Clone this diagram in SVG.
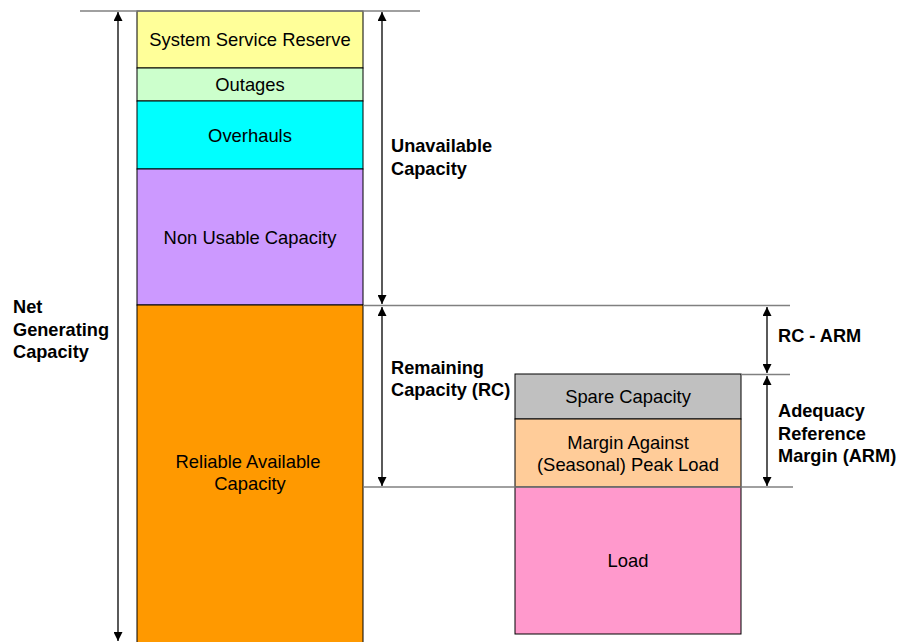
<svg xmlns="http://www.w3.org/2000/svg" width="897" height="642" viewBox="0 0 897 642">
<style>
.box{stroke:#000;stroke-width:1}
.t{font-family:"Liberation Sans",Arial,sans-serif;font-size:18.4px;fill:#000;text-anchor:middle}
.b{font-family:"Liberation Sans",Arial,sans-serif;font-size:18.2px;font-weight:bold;fill:#000}
.ref{stroke:#808080;stroke-width:1.3;fill:none}
.arr{stroke:#000;stroke-width:1.3;fill:none;marker-start:url(#ah);marker-end:url(#ah)}
</style>
<defs>
<marker id="ah" viewBox="0 0 10 10" refX="10" refY="5" markerWidth="9" markerHeight="9" markerUnits="userSpaceOnUse" orient="auto-start-reverse">
<path d="M0,0 L10,5 L0,10 Z" fill="#000"/>
</marker>
</defs>
<rect width="897" height="642" fill="#fff"/>
<g id="ssr"><rect class="box" x="137" y="11" width="226" height="57" fill="#FFFF99"/><text class="t" x="250" y="46">System Service Reserve</text></g>
<g id="outages"><rect class="box" x="137" y="68" width="226" height="33" fill="#CCFFCC"/><text class="t" x="250" y="91">Outages</text></g>
<g id="overhauls"><rect class="box" x="137" y="101" width="226" height="68" fill="#00FFFF"/><text class="t" x="250" y="142">Overhauls</text></g>
<g id="nonusable"><rect class="box" x="137" y="169" width="226" height="136" fill="#CC99FF"/><text class="t" x="250" y="244">Non Usable Capacity</text></g>
<g id="reliable"><rect class="box" x="137" y="305" width="226" height="345" fill="#FF9900"/><text class="t" x="248" y="468">Reliable Available</text><text class="t" x="250" y="490">Capacity</text></g>
<g id="spare"><rect class="box" x="515" y="374" width="226" height="45" fill="#C0C0C0"/><text class="t" x="628" y="403">Spare Capacity</text></g>
<g id="margin"><rect class="box" x="515" y="419" width="226" height="68" fill="#FFCC99"/><text class="t" x="628" y="449">Margin Against</text><text class="t" x="628" y="471">(Seasonal) Peak Load</text></g>
<g id="load"><rect class="box" x="515" y="487" width="226" height="147" fill="#FF99CC"/><text class="t" x="628" y="567">Load</text></g>
<g id="connectors">
<line class="ref" x1="80" y1="11" x2="420" y2="11"/>
<line class="ref" x1="363" y1="305.5" x2="790" y2="305.5"/>
<line class="ref" x1="741" y1="374.5" x2="790" y2="374.5"/>
<line class="ref" x1="363" y1="487" x2="793" y2="487"/>
<line class="arr" x1="118" y1="12" x2="118" y2="641"/>
<line class="arr" x1="382" y1="12" x2="382" y2="304"/>
<line class="arr" x1="382" y1="307" x2="382" y2="486"/>
<line class="arr" x1="767" y1="307" x2="767" y2="373"/>
<line class="arr" x1="767" y1="376" x2="767" y2="486"/>
</g>
<g id="labels">
<text class="b" x="13" y="313">Net</text><text class="b" x="13" y="336">Generating</text><text class="b" x="13" y="358">Capacity</text>
<text class="b" x="391" y="152">Unavailable</text><text class="b" x="391" y="175">Capacity</text>
<text class="b" x="391" y="374">Remaining</text><text class="b" x="391" y="396">Capacity (RC)</text>
<text class="b" x="778" y="342">RC - ARM</text>
<text class="b" x="778" y="417">Adequacy</text><text class="b" x="778" y="440">Reference</text><text class="b" x="778" y="462">Margin (ARM)</text>
</g>
</svg>
